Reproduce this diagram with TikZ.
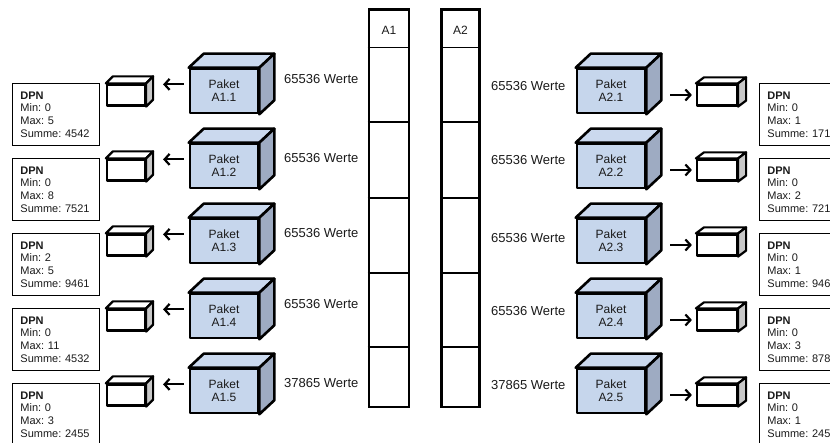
\documentclass[tikz,border=0pt]{standalone}
\usepackage{fontspec}
\setmainfont{Liberation Sans}
\usetikzlibrary{calc,arrows.meta}
\definecolor{pfront}{HTML}{C6D6EC}
\definecolor{ptop}{HTML}{CBD9EE}
\definecolor{pside}{HTML}{9EABC2}
\definecolor{sside}{HTML}{C8C8C8}
\definecolor{txt}{HTML}{1A1A1A}
\tikzset{
  paketfront/.style={draw, fill=pfront, line width=2.6pt, minimum width=68pt, minimum height=44pt,
    inner sep=0pt, align=center, font=\fontsize{12}{12.8}\selectfont, text=txt, line join=round},
  pakettop/.style={draw, fill=ptop, line width=2.6pt, line join=round},
  paketside/.style={draw, fill=pside, line width=2.6pt, line join=round},
  smallfront/.style={draw, fill=white, line width=2.2pt, minimum height=21pt, inner sep=0pt, line join=round},
  smalltop/.style={draw, fill=white, line width=2.2pt, line join=round},
  smallside/.style={draw, fill=sside, line width=2.2pt, line join=round},
  dpnbox/.style={draw, line width=0.9pt, minimum width=86pt, minimum height=62pt, text width=71pt,
    inner xsep=8pt, inner ysep=0pt, align=left, anchor=north west, text=txt,
    font=\fontsize{11}{12.7}\selectfont},
  werte/.style={anchor=west, inner sep=0pt, text=txt, font=\fontsize{13}{15}\selectfont},
  arr/.style={line width=2.2pt, -{Straight Barb[length=5pt,width=11pt]}},
  colbox/.style={draw, line width=2.8pt, inner sep=0pt},
  coldiv/.style={line width=1.4pt},
  collabel/.style={text=txt, font=\fontsize{12}{14}\selectfont, inner sep=0pt}
}
\begin{document}
\frenchspacing
\begin{tikzpicture}[x=1pt,y=-1pt]
\useasboundingbox (0,0) rectangle (830,443);
\clip (0,0) rectangle (830,443);
% columns
\node[colbox, minimum width=40pt, minimum height=397.5pt] (c1) at (389,208.25) {};
\node[colbox, minimum width=38pt, minimum height=397.5pt] (c2) at (460.5,208.25) {};
\foreach \d in {47.7,122,198,273,347}{
  \draw[coldiv] (c1.west |- 0,\d) -- (c1.east |- 0,\d);
  \draw[coldiv] (c2.west |- 0,\d) -- (c2.east |- 0,\d);
}
\node[collabel] (l1) at (389,30) {A1};
\node[collabel] (l2) at (460.5,30) {A2};
% rows
\foreach \i/\y/\lmin/\lmax/\lsum/\rmin/\rmax/\rsum/\w/\ly/\ry in {
  1/83/0/5/4542/0/1/171/65536/79/86,
  2/158/0/8/7521/0/2/721/65536/158/160,
  3/233/2/5/9461/0/1/946/65536/233/238,
  4/308/0/11/4532/0/3/878/65536/304/311,
  5/383/0/3/2455/0/1/245/37865/383/385}{
  % left side
  \node[paketfront] (pL\i) at (224,\y+8) {Paket\\A1.\i};
  \filldraw[pakettop] (pL\i.north west) -- ++(15,-14) -- ($(pL\i.north east)+(15,-14)$) -- (pL\i.north east) -- cycle;
  \filldraw[paketside] (pL\i.north east) -- ++(15,-14) -- ($(pL\i.south east)+(15,-14)$) -- (pL\i.south east) -- cycle;
  \node[smallfront, minimum width=38pt] (sL\i) at (126,\y+12) {};
  \filldraw[smalltop] (sL\i.north west) -- ++(7,-7) -- ($(sL\i.north east)+(7,-7)$) -- (sL\i.north east) -- cycle;
  \filldraw[smallside] (sL\i.north east) -- ++(7,-7) -- ($(sL\i.south east)+(7,-7)$) -- (sL\i.south east) -- cycle;
  \draw[arr] ($(pL\i.west|-sL\i.north)+(-5,1)$) -- ($(sL\i.north east)+(17,1)$);
  \node[dpnbox] (dL\i) at (12,\y) {\textbf{DPN}\\Min: \lmin\\Max: \lmax\\Summe: \lsum};
  \node[werte] (wL\i) at (284,\ly) {\w\ Werte};
  % right side
  \node[paketfront] (pR\i) at (611,\y+8) {Paket\\A2.\i};
  \filldraw[pakettop] (pR\i.north west) -- ++(15,-14) -- ($(pR\i.north east)+(15,-14)$) -- (pR\i.north east) -- cycle;
  \filldraw[paketside] (pR\i.north east) -- ++(15,-14) -- ($(pR\i.south east)+(15,-14)$) -- (pR\i.south east) -- cycle;
  \node[smallfront, minimum width=40pt] (sR\i) at (717,\y+12) {};
  \filldraw[smalltop] (sR\i.north west) -- ++(8,-6) -- ($(sR\i.north east)+(8,-6)$) -- (sR\i.north east) -- cycle;
  \filldraw[smallside] (sR\i.north east) -- ++(8,-6) -- ($(sR\i.south east)+(8,-6)$) -- (sR\i.south east) -- cycle;
  \draw[arr] ($(pR\i.east|-sR\i.west)+(24,0)$) -- ($(sR\i.west)+(-4,0)$);
  \node[dpnbox] (dR\i) at (759,\y) {\textbf{DPN}\\Min: \rmin\\Max: \rmax\\Summe: \rsum};
  \node[werte] (wR\i) at (491,\ry) {\w\ Werte};
}
\end{tikzpicture}
\end{document}
